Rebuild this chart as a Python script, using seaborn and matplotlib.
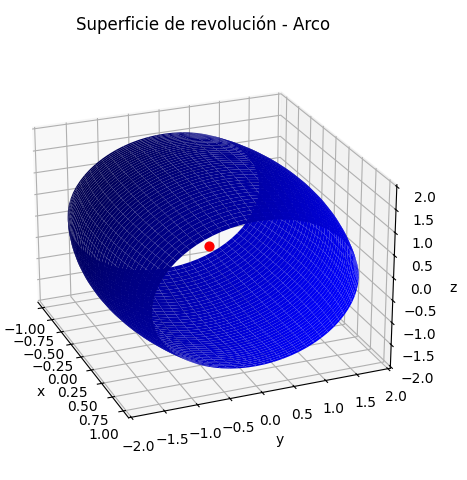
import matplotlib
matplotlib.use("Agg")
import matplotlib.pyplot as plt
import numpy as np
import seaborn as sns

# half of the arc profile (mirrored for negative x)
x_half = [0.0, 0.05, 0.1, 0.15, 0.2, 0.25, 0.3, 0.35, 0.4, 0.45, 0.5, 0.55, 0.6, 0.65, 0.7, 0.75, 0.8, 0.85, 0.9, 0.95, 1.0]
r_half = [1.89, 1.889, 1.887, 1.883, 1.878, 1.871, 1.863, 1.853, 1.842, 1.829, 1.815, 1.799, 1.782, 1.763, 1.743, 1.721, 1.698, 1.673, 1.647, 1.619, 1.59]
angles_deg = list(range(0, 361, 5))
point = [0.0, 0.0, 0.0]

title = "Superficie de revolución - Arco"
x_ticks = [-1.0, -0.75, -0.5, -0.25, 0.0, 0.25, 0.5, 0.75, 1.0]
yz_ticks = [-2.0, -1.5, -1.0, -0.5, 0.0, 0.5, 1.0, 1.5, 2.0]

sns.reset_orig()

fig = plt.figure(figsize=(4.67, 4.8), dpi=100)
ax = fig.add_axes([-0.045, 0.03, 0.96, 0.89], projection='3d', computed_zorder=False)
ax.set_box_aspect((4, 4, 2.85), zoom=0.99)

x_profile = [-v for v in x_half[:0:-1]] + x_half
r_profile = r_half[:0:-1] + r_half
theta = np.radians(angles_deg)
X, T = np.meshgrid(x_profile, theta)
R = np.meshgrid(r_profile, theta)[0]
Y = R * np.cos(T)
Z = R * np.sin(T)

ax.plot_surface(X, Y, Z, color='blue', rstride=1, cstride=1, zorder=1)
ax.scatter(*[[v] for v in point], color='red', s=40, depthshade=False, zorder=10)

ax.set_xlabel('x')
ax.set_ylabel('y')
ax.set_zlabel('z')
ax.set_xlim(-1.12, 1.12)
ax.set_ylim(-2.04, 2.04)
ax.set_zlim(-2.04, 2.04)
ax.set_xticks(x_ticks)
ax.set_yticks(yz_ticks)
ax.set_zticks(yz_ticks)
ax.set_title(title, fontsize=12, x=0.5)
ax.view_init(elev=24, azim=-22)

plt.savefig('out.png', dpi=100)
